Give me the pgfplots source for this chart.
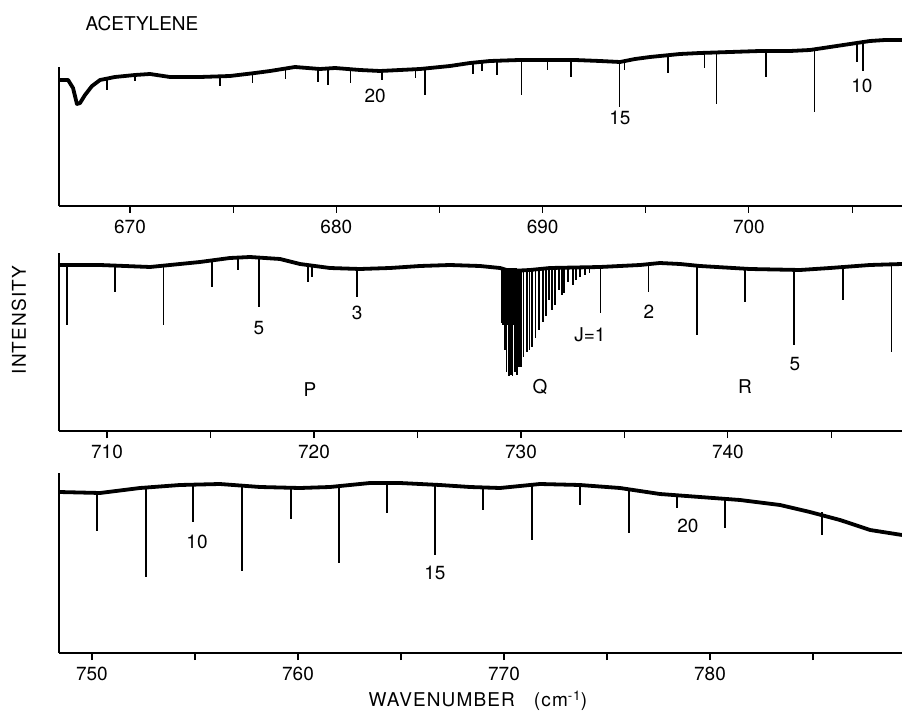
\documentclass[border=0pt]{standalone}
\usepackage{pgfplots}
\pgfplotsset{compat=1.18}
\usepackage{fontspec}
\setmainfont{TeX Gyre Heros}
\newfontfamily\spacedfont[LetterSpace=6]{TeX Gyre Heros}

\pgfplotsset{
  panel/.style={
    scale only axis, width=843pt, anchor=south west,
    axis x line*=bottom, axis y line*=left,
    ymin=0, ytick=\empty, clip=false,
    axis line style={line width=1.3pt},
    tick align=outside, major tick length=7pt, minor tick length=7pt,
    every tick/.style={black, line width=1.1pt},
    /pgf/number format/assume math mode=true,
    /pgf/number format/set thousands separator={},
    xticklabel style={font=\fontsize{19}{22}\selectfont, yshift=-3pt},
  },
  base/.style={black, line width=3.8pt, line join=round},
  spk/.style={black, line width=1.2pt, unbounded coords=jump},
}
\tikzset{lab/.style={font=\fontsize{19}{22}\selectfont, inner sep=0pt}}

\begin{document}
\begin{tikzpicture}[x=1pt,y=1pt]
\useasboundingbox (0,0) rectangle (902,713);

% ---------------- Panel 1 ----------------
\begin{axis}[panel, at={(59pt,507pt)}, height=139pt,
  xmin=666.56, xmax=707.42, ymax=139,
  xtick={670,680,690,700}, minor xtick={675,685,695,705}]
\addplot[base] coordinates {
(666.56,126) (667.00,126) (667.24,118) (667.43,102) (667.58,103) (667.82,111)
(668.16,120) (668.55,126) (669.27,129) (670.24,131) (670.97,132) (671.94,129)
(673.39,129) (674.85,130) (676.06,133) (676.79,135) (678.00,139) (679.21,137)
(679.94,138) (681.15,136) (682.12,135) (683.09,136) (684.06,137) (685.51,140)
(686.48,143) (687.45,145) (688.87,146) (690.36,146) (691.57,146) (692.78,145)
(693.75,144) (694.48,147) (695.21,149) (696.66,152) (697.63,153) (699.09,154)
(700.54,155) (702.00,155) (702.96,156) (703.93,159) (704.90,162) (705.87,165)
(706.60,166) (707.42,166)};
\addplot[spk] coordinates {
(668.89,127) (668.89,116) (668.89,nan)
(670.24,131) (670.24,125) (670.24,nan)
(674.36,130) (674.36,120) (674.36,nan)
(675.92,133) (675.92,123) (675.92,nan)
(677.52,138) (677.52,127) (677.52,nan)
(679.11,137) (679.11,124) (679.11,nan)
(679.60,137) (679.60,121) (679.60,nan)
(680.67,137) (680.67,123) (680.67,nan)
(682.22,135) (682.22,126) (682.22,nan)
(683.82,137) (683.82,128) (683.82,nan)
(684.30,137) (684.30,111) (684.30,nan)
(686.63,143) (686.63,132) (686.63,nan)
(687.06,144) (687.06,135) (687.06,nan)
(687.79,145) (687.79,131) (687.79,nan)
(688.96,146) (688.96,111) (688.96,nan)
(690.22,146) (690.22,136) (690.22,nan)
(691.38,146) (691.38,129) (691.38,nan)
(693.71,144) (693.71,99) (693.71,nan)
(693.95,144) (693.95,136) (693.95,nan)
(696.08,151) (696.08,133) (696.08,nan)
(697.83,153) (697.83,138) (697.83,nan)
(698.41,153) (698.41,102) (698.41,nan)
(700.83,155) (700.83,129) (700.83,nan)
(703.16,156) (703.16,94) (703.16,nan)
(705.24,163) (705.24,144) (705.24,nan)
(705.53,164) (705.53,135) (705.53,nan)};
\node[lab] at (axis cs:681.88,110) {20};
\node[lab] at (axis cs:693.75,88) {15};
\node[lab] at (axis cs:705.48,120) {10};
\end{axis}

% ---------------- Panel 2 ----------------
\begin{axis}[panel, at={(59pt,282pt)}, height=178pt,
  xmin=707.68, xmax=748.41, ymax=178,
  xtick={710,720,730,740}, minor xtick={715,725,735,745}]
\addplot[base] coordinates {
(707.68,166) (709.66,166) (712.08,164) (714.49,169) (715.94,173) (716.91,174)
(718.36,172) (719.32,167) (720.77,163) (722.22,162) (723.67,163) (725.12,165)
(726.57,166) (728.02,165) (728.99,163) (729.47,160) (730.43,161) (731.40,163)
(733.82,164) (735.75,166) (736.71,168) (737.68,167) (738.65,165) (741.06,162)
(743.48,161) (744.93,163) (746.86,166) (748.41,167)};
\addplot[spk] coordinates {
(708.07,166) (708.07,106) (708.07,nan)
(710.39,166) (710.39,139) (710.39,nan)
(712.71,164) (712.71,106) (712.71,nan)
(715.07,172) (715.07,144) (715.07,nan)
(716.33,174) (716.33,161) (716.33,nan)
(717.34,174) (717.34,124) (717.34,nan)
(719.71,167) (719.71,149) (719.71,nan)
(719.90,166) (719.90,154) (719.90,nan)
(722.08,162) (722.08,134) (722.08,nan)
(729.08,162) (729.08,131) (729.08,nan)
(729.13,162) (729.13,106) (729.13,nan)
(729.18,162) (729.18,109) (729.18,nan)
(729.23,162) (729.23,81) (729.23,nan)
(729.28,162) (729.28,101) (729.28,nan)
(729.32,162) (729.32,59) (729.32,nan)
(729.37,162) (729.37,106) (729.37,nan)
(729.42,162) (729.42,55) (729.42,nan)
(729.47,162) (729.47,101) (729.47,nan)
(729.52,162) (729.52,56) (729.52,nan)
(729.57,162) (729.57,103) (729.57,nan)
(729.61,162) (729.61,55) (729.61,nan)
(729.66,162) (729.66,106) (729.66,nan)
(729.71,162) (729.71,59) (729.71,nan)
(729.76,162) (729.76,109) (729.76,nan)
(729.81,162) (729.81,56) (729.81,nan)
(729.86,162) (729.86,101) (729.86,nan)
(729.90,162) (729.90,64) (729.90,nan)
(730.00,162) (730.00,64) (730.00,nan)
(730.14,162) (730.14,74) (730.14,nan)
(730.29,162) (730.29,79) (730.29,nan)
(730.43,162) (730.43,81) (730.43,nan)
(730.53,162) (730.53,84) (730.53,nan)
(730.72,162) (730.72,93) (730.72,nan)
(730.87,162) (730.87,101) (730.87,nan)
(731.06,163) (731.06,109) (731.06,nan)
(731.21,163) (731.21,115) (731.21,nan)
(731.35,163) (731.35,131) (731.35,nan)
(731.50,163) (731.50,121) (731.50,nan)
(731.64,163) (731.64,126) (731.64,nan)
(731.84,163) (731.84,141) (731.84,nan)
(731.98,163) (731.98,136) (731.98,nan)
(732.08,163) (732.08,138) (732.08,nan)
(732.27,163) (732.27,149) (732.27,nan)
(732.51,164) (732.51,146) (732.51,nan)
(732.66,164) (732.66,151) (732.66,nan)
(732.85,164) (732.85,154) (732.85,nan)
(733.09,164) (733.09,156) (733.09,nan)
(733.33,164) (733.33,158) (733.33,nan)
(733.86,164) (733.86,118) (733.86,nan)
(736.18,167) (736.18,139) (736.18,nan)
(738.50,165) (738.50,96) (738.50,nan)
(740.82,162) (740.82,129) (740.82,nan)
(743.19,161) (743.19,86) (743.19,nan)
(745.56,164) (745.56,131) (745.56,nan)
(747.92,167) (747.92,79) (747.92,nan)};
% Q-branch head (dense unresolved lines)
\addplot[black, line width=1.5pt] coordinates {
(729.08,162) (729.08,109) (729.15,109) (729.15,162) (729.22,162) (729.22,109)
(729.29,109) (729.29,162) (729.36,162) (729.36,109) (729.43,109) (729.43,162)
(729.50,162) (729.50,109) (729.57,109) (729.57,162) (729.64,162) (729.64,109)
(729.71,109) (729.71,162) (729.78,162) (729.78,109) (729.85,109) (729.85,162)};
\node[lab] at (axis cs:717.34,103) {5};
\node[lab] at (axis cs:722.08,118) {3};
\node[lab] at (axis cs:719.81,41) {P};
\node[lab] at (axis cs:730.92,44) {Q};
\node[lab] at (axis cs:733.33,96) {J=1};
\node[lab] at (axis cs:736.18,119) {2};
\node[lab] at (axis cs:740.82,44) {R};
\node[lab] at (axis cs:743.24,67) {5};
\end{axis}

% ---------------- Panel 3 ----------------
\begin{axis}[panel, at={(59pt,60pt)}, height=180pt,
  xmin=748.40, xmax=789.32, ymax=180,
  xtick={750,760,770,780}, minor xtick={755,765,775,785}]
\addplot[base] coordinates {
(748.40,161) (750.39,160) (752.33,165) (754.27,168) (756.21,169) (758.16,166)
(760.10,165) (761.55,166) (763.50,170) (764.95,170) (766.89,168) (768.35,166)
(769.81,165) (771.75,169) (773.69,168) (775.63,165) (777.57,159) (779.51,156)
(781.46,153) (783.40,148) (784.85,141) (786.31,133) (787.77,123) (789.32,118)};
\addplot[spk] coordinates {
(750.24,160) (750.24,122) (750.24,nan)
(752.62,165) (752.62,76) (752.62,nan)
(754.90,168) (754.90,131) (754.90,nan)
(757.28,168) (757.28,82) (757.28,nan)
(759.66,165) (759.66,134) (759.66,nan)
(761.99,166) (761.99,90) (761.99,nan)
(764.32,170) (764.32,140) (764.32,nan)
(766.65,168) (766.65,98) (766.65,nan)
(768.98,166) (768.98,143) (768.98,nan)
(771.36,169) (771.36,113) (771.36,nan)
(773.69,168) (773.69,148) (773.69,nan)
(776.07,165) (776.07,120) (776.07,nan)
(778.40,157) (778.40,145) (778.40,nan)
(780.73,154) (780.73,125) (780.73,nan)
(785.44,141) (785.44,118) (785.44,nan)};
\node[lab] at (axis cs:755.10,111) {10};
\node[lab] at (axis cs:766.65,80) {15};
\node[lab] at (axis cs:778.93,127) {20};
\end{axis}

\node[lab] at (142,689) {ACETYLENE};
\node[lab, font=\fontsize{19}{22}\spacedfont, rotate=90] at (19,393) {INTENSITY};
\node[lab, font=\fontsize{19}{22}\spacedfont] at (478,12) {WAVENUMBER\quad(cm\textsuperscript{-1})};
\end{tikzpicture}
\end{document}
